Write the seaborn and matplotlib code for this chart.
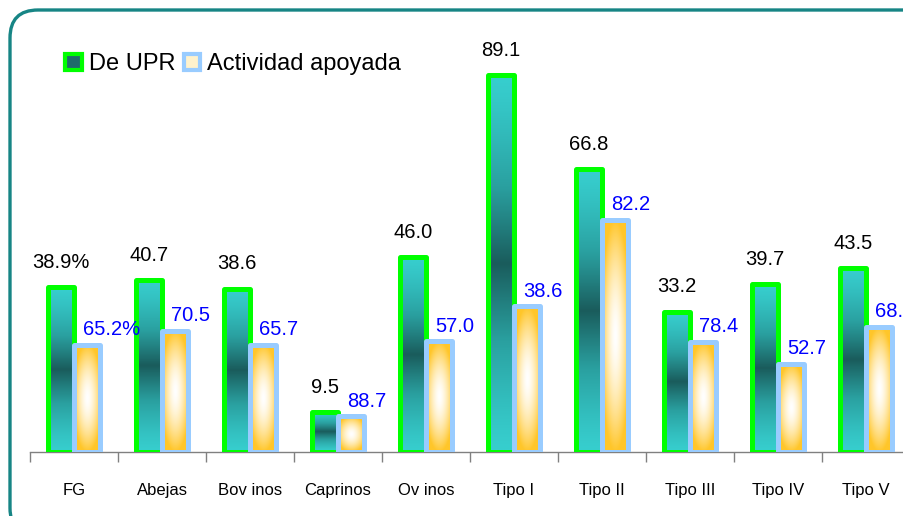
import matplotlib
matplotlib.use('Agg')
import matplotlib.pyplot as plt
from matplotlib.patches import FancyBboxPatch, Rectangle
from matplotlib.colors import LinearSegmentedColormap, to_rgb
import seaborn as sns
import pandas as pd
import numpy as np

# datos
categorias = ['FG', 'Abejas', 'Bov inos', 'Caprinos', 'Ov inos',
              'Tipo I', 'Tipo II', 'Tipo III', 'Tipo IV', 'Tipo V']
de_upr = [38.9, 40.7, 38.6, 9.5, 46.0, 89.1, 66.8, 33.2, 39.7, 43.5]
pct_apoyada = [65.2, 70.5, 65.7, 88.7, 57.0, 38.6, 82.2, 78.4, 52.7, 68.1]
# altura de las barras naranjas
alto_apoyada = [25.4, 28.7, 25.4, 8.4, 26.2, 34.4, 54.9, 26.0, 20.9, 29.6]

sns.set_style('white')
plt.rcParams['font.family'] = ['Liberation Sans', 'DejaVu Sans']
plt.rcParams['text.color'] = 'black'

df = pd.DataFrame({
    'cat': categorias * 2,
    'val': de_upr + alto_apoyada,
    'serie': ['De UPR'] * len(categorias) + ['Actividad apoyada'] * len(categorias),
})

fig = plt.figure(figsize=(9.04, 5.16), dpi=100)
ax = fig.add_axes([30 / 904, 1 - 452 / 516, 880 / 904, (452 - 29) / 516])

sns.barplot(data=df, x='cat', y='val', hue='serie',
            palette=['#2a8a8a', '#ffe9a8'], width=0.6, saturation=1,
            legend=False, ax=ax)

cm_verde = LinearSegmentedColormap.from_list('verde', ['#37cece', '#2aa0a0', '#1a5c5c'])
naranja = np.array(to_rgb('#ffc62a'))


def grad_verde():
    t = np.linspace(0, 1, 200)[:, None] * np.ones((1, 20))
    v = 1 - np.abs(2 * t - 1)
    return cm_verde(v ** 1.3)


def grad_naranja():
    t = np.linspace(0, 1, 200)[:, None]
    s = np.linspace(0, 1, 40)[None, :]
    d = np.sqrt((2 * t - 1) ** 2 + 0.8 * (2 * s - 1) ** 2)
    d = np.clip(d, 0, 1) ** 1.6
    img = (1 - d)[..., None] * np.ones(3) + d[..., None] * naranja
    return img


bordes = ['#00ff00', '#99ccff']
grads = [grad_verde(), grad_naranja()]
for k, cont in enumerate(ax.containers):
    for p in cont:
        x0, y0 = p.get_x(), p.get_y()
        w, h = p.get_width(), p.get_height()
        im = ax.imshow(grads[k], extent=(x0, x0 + w, y0, y0 + h),
                       aspect='auto', origin='upper', zorder=2,
                       interpolation='bilinear')
        im.set_clip_path(p)
        p.set_facecolor('none')
        p.set_edgecolor(bordes[k])
        p.set_linewidth(3.6)
        p.set_joinstyle('round')
        p.set_zorder(3)

# etiquetas de valores
for i, p in enumerate(ax.containers[0]):
    txt = f'{de_upr[i]:.1f}' + ('%' if i == 0 else '')
    ax.annotate(txt, (p.get_x() + p.get_width() / 2, p.get_height()),
                xytext=(0, 11), textcoords='offset points',
                ha='center', va='bottom', fontsize=14.5, color='black')
for i, p in enumerate(ax.containers[1]):
    txt = f'{pct_apoyada[i]:.1f}' + ('%' if i == 0 else '')
    ax.annotate(txt, (p.get_x() + p.get_width() / 2, p.get_height()),
                xytext=(-3, 4), textcoords='offset points',
                ha='left', va='bottom', fontsize=14.5, color='#0000ff',
                annotation_clip=False)

ax.set_xlim(-0.5, 9.5)
ax.set_ylim(0, 100)
ax.set_xlabel('')
ax.set_ylabel('')
ax.set_yticks([])
for s in ['top', 'right', 'left']:
    ax.spines[s].set_visible(False)
ax.spines['bottom'].set_color('#808080')
ax.spines['bottom'].set_linewidth(1)
ax.set_xticks(range(len(categorias)))
ax.set_xticklabels(categorias, fontsize=12, color='black')
ax.set_xticks(np.arange(-0.5, 10, 1), minor=True)
ax.tick_params(axis='x', which='major', length=0, pad=22)
ax.tick_params(axis='x', which='minor', bottom=True, length=7, width=1,
               color='#808080', direction='out')
ax.patch.set_alpha(0)

# leyenda
h1 = Rectangle((0, 0), 1, 1, facecolor='#1f6b6b', edgecolor='#00ff00', linewidth=3)
h2 = Rectangle((0, 0), 1, 1, facecolor='#fff2cc', edgecolor='#99ccff', linewidth=3)
leg = fig.legend([h1, h2], ['De UPR', 'Actividad apoyada'], loc='upper left',
                 bbox_to_anchor=(0.059, 0.92), ncol=2, frameon=False, fontsize=17,
                 handlelength=0.7, handleheight=0.7, handletextpad=0.3,
                 columnspacing=0.35, borderpad=0)
for t in leg.get_texts():
    t.set_color('black')

# marco redondeado
marco = FancyBboxPatch((0.10, -0.2), 9.3, 5.26,
                       boxstyle='round,pad=0,rounding_size=0.28',
                       transform=fig.dpi_scale_trans, facecolor='none',
                       edgecolor='#178585', linewidth=2.4)
fig.patches.append(marco)

fig.savefig('out.png', dpi=100)
